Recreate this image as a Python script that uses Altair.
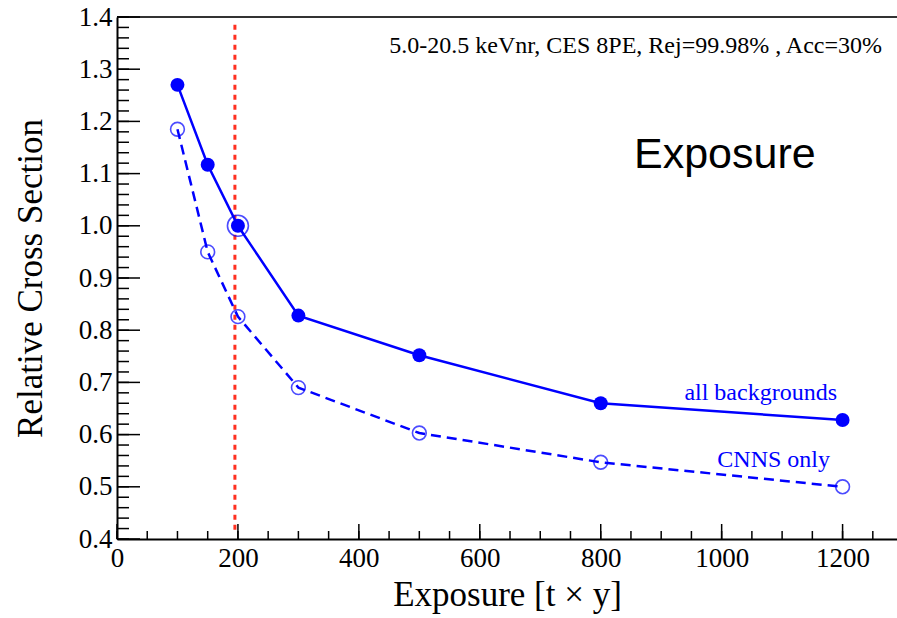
import altair as alt
import pandas as pd

# data
exposure = [100, 150, 200, 300, 500, 800, 1200]
all_bkg = [1.270, 1.117, 1.000, 0.828, 0.752, 0.660, 0.628]
cnns_only = [1.185, 0.950, 0.826, 0.690, 0.603, 0.547, 0.500]
ref_exposure = [200]
ref_value = [1.0]
vline_x = 195

y_major = [0.4, 0.5, 0.6, 0.7, 0.8, 0.9, 1.0, 1.1, 1.2, 1.3, 1.4]
y_minor = [round(0.4 + 0.02 * i, 2) for i in range(51)]
x_major = [0, 200, 400, 600, 800, 1000, 1200]
x_minor = [50 * i for i in range(26)]

W, H = 780, 522
XDOM = [0, 1290]
YDOM = [0.4, 1.4]
BLUE = "#0000ff"
SERIF = "Liberation Serif"

xs = alt.Scale(domain=XDOM, nice=False, zero=False)
ys = alt.Scale(domain=YDOM, nice=False, zero=False)
xaxis = alt.Axis(values=x_major, tickSize=0, labelFlush=False, labelOverlap=False,
                 labelPadding=6, titlePadding=6, format="d", title="Exposure [t × y]")
yaxis = alt.Axis(values=y_major, tickSize=0, labelFlush=False, labelOverlap=False,
                 labelPadding=5, titlePadding=30, format=".1f", title="Relative Cross Section")


def X(f):
    return alt.X(f, scale=xs, axis=xaxis, title="Exposure [t × y]")


def Y(f):
    return alt.Y(f, scale=ys, axis=yaxis, title="Relative Cross Section")


df = pd.DataFrame({"x": exposure, "all": all_bkg, "cnns": cnns_only})
base = alt.Chart(df)

line_all = base.mark_line(color=BLUE, strokeWidth=2.5).encode(x=X("x:Q"), y=Y("all:Q"))
pts_all = base.mark_circle(color=BLUE, size=195, opacity=1).encode(x=X("x:Q"), y=Y("all:Q"))
line_cnns = base.mark_line(color=BLUE, strokeWidth=2.5, strokeDash=[10, 6]).encode(
    x=X("x:Q"), y=Y("cnns:Q"))
pts_cnns = base.mark_point(shape="circle", color=BLUE, size=190, strokeWidth=1.6, filled=False).encode(
    x=X("x:Q"), y=Y("cnns:Q"))
ref_pt = alt.Chart(pd.DataFrame({"x": ref_exposure, "y": ref_value})).mark_point(
    shape="circle", color=BLUE, size=440, strokeWidth=1.6, filled=False).encode(
    x=X("x:Q"), y=Y("y:Q"))

vline = alt.Chart(pd.DataFrame({"x": [vline_x], "y1": [1.385], "y2": [0.415]})).mark_rule(
    color="#ff3020", strokeWidth=3, strokeDash=[5, 5]).encode(
    x=X("x:Q"), y=Y("y1:Q"), y2="y2:Q")

ytm = alt.Chart(pd.DataFrame({"y": y_major})).mark_rule(color="black", strokeWidth=1.5).encode(
    y=Y("y:Q"), x=alt.value(0), x2=alt.value(23))
ytn = alt.Chart(pd.DataFrame({"y": y_minor})).mark_rule(color="black", strokeWidth=1.5).encode(
    y=Y("y:Q"), x=alt.value(0), x2=alt.value(12))
xtm = alt.Chart(pd.DataFrame({"x": x_major})).mark_rule(color="black", strokeWidth=1.5).encode(
    x=X("x:Q"), y=alt.value(H), y2=alt.value(H - 15))
xtn = alt.Chart(pd.DataFrame({"x": x_minor})).mark_rule(color="black", strokeWidth=1.5).encode(
    x=X("x:Q"), y=alt.value(H), y2=alt.value(H - 8))

top_frame = alt.Chart(pd.DataFrame({"y": [1.4]})).mark_rule(color="#333333", strokeWidth=2).encode(
    y=Y("y:Q"), x=alt.value(0), x2=alt.value(W))

info = alt.Chart(pd.DataFrame({"t": ["5.0-20.5 keVnr, CES 8PE, Rej=99.98% , Acc=30%"]})).mark_text(
    font=SERIF, fontSize=24, align="right", baseline="alphabetic", color="black").encode(
    text="t:N", x=alt.value(765), y=alt.value(36))
title_txt = alt.Chart(pd.DataFrame({"t": ["Exposure"]})).mark_text(
    font="Liberation Sans", fontSize=43, align="left", baseline="alphabetic", color="black").encode(
    text="t:N", x=alt.value(517), y=alt.value(151))
lab_all = alt.Chart(pd.DataFrame({"t": ["all backgrounds"]})).mark_text(
    font=SERIF, fontSize=24, align="right", baseline="alphabetic", color=BLUE).encode(
    text="t:N", x=alt.value(720), y=alt.value(383))
lab_cnns = alt.Chart(pd.DataFrame({"t": ["CNNS only"]})).mark_text(
    font=SERIF, fontSize=24, align="right", baseline="alphabetic", color=BLUE).encode(
    text="t:N", x=alt.value(713), y=alt.value(450))

chart = alt.layer(
    top_frame, vline, ytm, ytn, xtm, xtn,
    line_cnns, pts_cnns, line_all, pts_all, ref_pt,
    info, title_txt, lab_all, lab_cnns,
).properties(
    width=W, height=H,
    background="white",
    autosize=alt.AutoSizeParams(type="none"),
    padding={"left": 117, "top": 17, "right": 0, "bottom": 79},
).configure_view(stroke=None).configure_axis(
    grid=False, domainColor="black", domainWidth=2,
    labelFont=SERIF, labelFontSize=27, labelColor="black",
    titleFont=SERIF, titleFontSize=35, titleFontWeight="normal", titleColor="black",
)

chart.save("out.html", embed_options={"renderer": "svg", "actions": False})
